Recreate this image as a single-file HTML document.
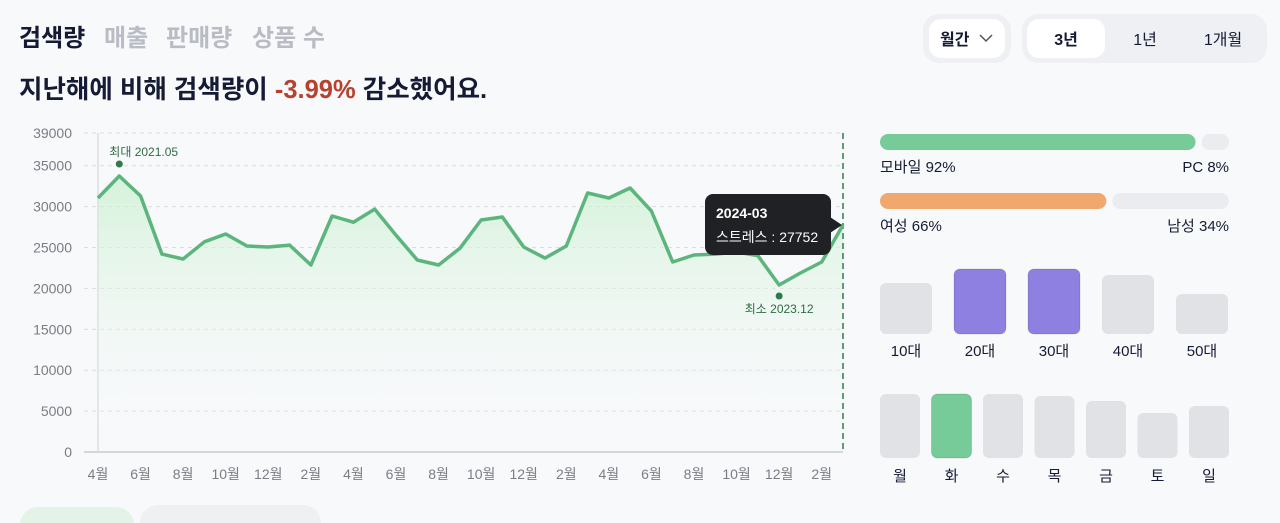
<!DOCTYPE html>
<html><head><meta charset="utf-8">
<style>
html,body{margin:0;padding:0;background:#f8f9fb;width:1280px;height:523px;overflow:hidden;font-family:"Liberation Sans","Noto Sans CJK KR",sans-serif;}
svg{display:block}
</style></head>
<body>
<svg width="1280" height="523" viewBox="0 0 1280 523" xmlns="http://www.w3.org/2000/svg" font-family="'Liberation Sans','Noto Sans CJK KR',sans-serif">
<defs>
<linearGradient id="fillg" x1="0" y1="0" x2="0" y2="1">
<stop offset="0" stop-color="#c9f0cf" stop-opacity="0.75"/>
<stop offset="1" stop-color="#f8f9fb" stop-opacity="0"/>
</linearGradient>
</defs>
<g font-size="24" font-weight="bold">
<text x="19" y="46" fill="#151b34">검색량</text>
<text x="104" y="46" fill="#b9bcc4">매출</text>
<text x="166" y="46" fill="#b9bcc4">판매량</text>
<text x="252" y="46" fill="#b9bcc4">상품 수</text>
</g>
<text x="19" y="98" font-size="25.5" font-weight="bold" fill="#151b34">지난해에 비해 검색량이 <tspan fill="#b8402f">-3.99%</tspan> 감소했어요.</text>

<g>
<rect x="923" y="14" width="88" height="49" rx="16" fill="#eef0f3"/>
<rect x="929" y="19" width="76" height="39" rx="12" fill="#fff"/>
<text x="940" y="45" font-size="16" font-weight="bold" fill="#151b34">월간</text>
<path d="M980 35 l6 6 l6 -6" fill="none" stroke="#555" stroke-width="1.5"/>
</g>
<g>
<rect x="1022" y="14" width="245" height="49" rx="16" fill="#eef0f3"/>
<rect x="1027" y="19" width="78" height="39" rx="12" fill="#fff"/>
<text x="1066" y="45" font-size="16" font-weight="bold" fill="#151b34" text-anchor="middle">3년</text>
<text x="1145" y="45" font-size="16" fill="#151b34" text-anchor="middle">1년</text>
<text x="1223" y="45" font-size="16" fill="#151b34" text-anchor="middle">1개월</text>
</g>

<g id="chart"></g>
<g id="panel"></g>

<rect x="20" y="507" width="114" height="40" rx="18" fill="#e4f3e7"/>
<rect x="140" y="505" width="181" height="40" rx="18" fill="#eff0f2"/>
</svg>
<script>
const months = ["2021-04","2021-05","2021-06","2021-07","2021-08","2021-09","2021-10","2021-11","2021-12","2022-01","2022-02","2022-03","2022-04","2022-05","2022-06","2022-07","2022-08","2022-09","2022-10","2022-11","2022-12","2023-01","2023-02","2023-03","2023-04","2023-05","2023-06","2023-07","2023-08","2023-09","2023-10","2023-11","2023-12","2024-01","2024-02","2024-03"];
const searchVolume = [31050,33740,31300,24200,23600,25700,26650,25180,25060,25300,22860,28850,28100,29700,26500,23470,22860,24900,28360,28730,25060,23700,25180,31660,31050,32270,29460,23230,24080,24200,24450,24000,20420,21880,23230,27752];
const yTicks = [0,5000,10000,15000,20000,25000,30000,35000,39000];
const xTickLabels = ["4월","6월","8월","10월","12월","2월","4월","6월","8월","10월","12월","2월","4월","6월","8월","10월","12월","2월"];
const deviceLabels = ["모바일 92%","PC 8%"];
const deviceShare = [92,8];
const genderLabels = ["여성 66%","남성 34%"];
const genderShare = [66,34];
const ageGroups = ["10대","20대","30대","40대","50대"];
const ageValues = [51,65,65,59,40];
const ageHighlight = [false,true,true,false,false];
const weekdays = ["월","화","수","목","금","토","일"];
const weekdayValues = [64,64,64,62,57,45,52];
const weekdayHighlight = [false,true,false,false,false,false,false];

const NS="http://www.w3.org/2000/svg";
function mk(tag,attrs,parent){const e=document.createElementNS(NS,tag);for(const k in attrs)e.setAttribute(k,attrs[k]);parent.appendChild(e);return e;}
const chart=document.getElementById('chart');
const x0=98,x1=843,yBase=452,yTop=133,yMax=39000;
const xs=i=>x0+(x1-x0)*i/(months.length-1);
const ys=v=>yBase-(yBase-yTop)*v/yMax;

yTicks.forEach(t=>{
 if(t>0){const g=mk('line',{x1:84,x2:843,y1:ys(t),y2:ys(t),stroke:'#dcdde0','stroke-dasharray':'4 4'},chart);
 
 }
 const l=mk('text',{x:72,y:ys(t)+5,'font-size':14,fill:'#7a7d84','text-anchor':'end'},chart);
 
 
 l.textContent=t;
});
const ax=mk('line',{x1:84,x2:843,y1:yBase,y2:yBase,stroke:'#c9cacd','stroke-width':1.5},chart);


const ay=mk('line',{x1:x0,x2:x0,y1:yTop,y2:yBase,stroke:'#dcdde0','stroke-width':1.5},chart);


xTickLabels.forEach((lab,k)=>{
 const t=mk('text',{x:xs(k*2),y:479,'font-size':14,fill:'#7a7d84','text-anchor':'middle'},chart);
 
 
 t.textContent=lab;
});
let d=searchVolume.map((v,i)=>(i?'L':'M')+xs(i).toFixed(1)+' '+ys(v).toFixed(1)).join(' ');
const area=mk('path',{d:d+` L${x1} ${yBase} L${x0} ${yBase} Z`,fill:'url(#fillg)'},chart);


const hover=mk('line',{x1:x1,x2:x1,y1:yTop,y2:yBase,stroke:'#2f7a4a','stroke-width':1.5,'stroke-dasharray':'6 4'},chart);


const line=mk('path',{d:d,fill:'none',stroke:'#5cb57c','stroke-width':3.5,'stroke-linejoin':'round'},chart);


let iMax=0,iMin=0;searchVolume.forEach((v,i)=>{if(v>searchVolume[iMax])iMax=i;if(v<searchVolume[iMin])iMin=i;});
const mxd=mk('circle',{cx:xs(iMax),cy:ys(searchVolume[iMax])-12,r:3.5,fill:'#2f7a4a'},chart);


const mxt=mk('text',{x:xs(iMax)-10,y:ys(searchVolume[iMax])-20,'font-size':12,fill:'#2f6b45'},chart);


mxt.textContent='최대 '+months[iMax].replace('-','.');
const mnd=mk('circle',{cx:xs(iMin),cy:ys(searchVolume[iMin])+11,r:3.5,fill:'#2f7a4a'},chart);


const mnt=mk('text',{x:xs(iMin),y:ys(searchVolume[iMin])+28,'font-size':12,fill:'#2f6b45','text-anchor':'middle'},chart);


mnt.textContent='최소 '+months[iMin].replace('-','.');
const li=months.length-1, ty=ys(searchVolume[li]);
const tip=mk('g',{},chart);


mk('rect',{x:705,y:ty-31,width:126,height:61,rx:8,fill:'#1f2124'},tip);
mk('path',{d:`M830 ${ty-8} L${x1-1} ${ty} L830 ${ty+8} Z`,fill:'#1f2124'},tip);
const t1=mk('text',{x:716,y:ty-7,'font-size':14,'font-weight':'bold',fill:'#fff'},tip);t1.textContent=months[li];
const t2=mk('text',{x:716,y:ty+17,'font-size':14,fill:'#fff'},tip);t2.textContent='스트레스 : '+searchVolume[li];

const p=document.getElementById('panel');
function hbar(share,labels,y,color,name){
 const L=880,R=1229,gap=6,W=R-L-gap;
 const w1=W*share[0]/100;
 const b1=mk('rect',{x:L,y:y,width:w1,height:16,rx:8,fill:color},p);
 
 
 const b2=mk('rect',{x:L+w1+gap,y:y,width:W-w1,height:16,rx:8,fill:'#ebecef'},p);
 
 
 const a=mk('text',{x:L,y:y+38,'font-size':15,fill:'#151b34'},p);a.textContent=labels[0];
 
 
 const b=mk('text',{x:R,y:y+38,'font-size':15,fill:'#151b34','text-anchor':'end'},p);b.textContent=labels[1];
 
 
}
hbar(deviceShare,deviceLabels,134,'#76cb98','device');
hbar(genderShare,genderLabels,193,'#f0a86e','gender');
function vbars(vals,labs,hi,bottom,bw,step,color,name,ly){
 vals.forEach((v,i)=>{
  const x=880+i*step;
  const r=mk('rect',{x:x,y:bottom-v,width:bw,height:v,rx:6,fill:hi[i]?color:'#e1e2e5',stroke:hi[i]?'rgba(0,0,0,0.12)':'none'},p);
  
  
  const t=mk('text',{x:x+bw/2,y:ly,'font-size':15,fill:'#151b34','text-anchor':'middle'},p);
  
  
  t.textContent=labs[i];
 });
}
vbars(ageValues,ageGroups,ageHighlight,334,52,74,'#8e80e0','age',356);
vbars(weekdayValues,weekdays,weekdayHighlight,458,40,51.5,'#76cb98','weekday',481);
</script>
</body></html>
